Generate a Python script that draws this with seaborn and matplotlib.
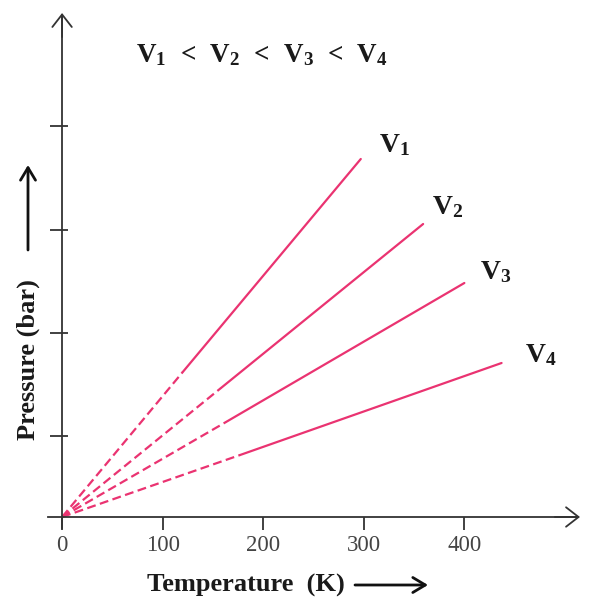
import numpy as np
import pandas as pd
import matplotlib.pyplot as plt
import seaborn as sns

# isochores (T in K, P in arbitrary units)
volumes = ['V1', 'V2', 'V3', 'V4']
t_break = [120, 158, 163, 177]   # where the dashed extrapolation turns solid
p_break = [145, 129, 95, 62]
t_end = [297, 359, 400, 437]
p_end = [358, 293, 234, 154]
x_ticks = [0, 100, 200, 300, 400]
y_ticks = [81, 184, 287, 391]

rows = []
for v, tb, pb, te, pe in zip(volumes, t_break, p_break, t_end, p_end):
    rows += [(v + '_d', 'dashed', 0, 0), (v + '_d', 'dashed', tb, pb),
             (v + '_s', 'solid', tb, pb), (v + '_s', 'solid', te, pe)]
df = pd.DataFrame(rows, columns=['line', 'part', 'T', 'P'])

sns.set_style('ticks')
plt.rcParams['font.family'] = ['Liberation Serif', 'DejaVu Serif']
plt.rcParams['mathtext.fontset'] = 'custom'
plt.rcParams['mathtext.bf'] = 'Liberation Serif:bold'
plt.rcParams['mathtext.rm'] = 'Liberation Serif'

fig = plt.figure(figsize=(5.99, 5.98), dpi=100)
ax = fig.add_axes([48 / 599, 70 / 598, 530 / 599, 513 / 598])

pink = '#ea3371'
axis_col = '#333333'
sns.lineplot(data=df, x='T', y='P', units='line', estimator=None, style='part',
             dashes={'dashed': (4, 2), 'solid': ''}, color=pink, lw=1.6,
             legend=False, sort=False, ax=ax)

ax.set_xlim(-14, 513)
ax.set_ylim(-11, 502)
for s in ['top', 'right']:
    ax.spines[s].set_visible(False)
for s in ['left', 'bottom']:
    ax.spines[s].set_position(('data', 0))
    ax.spines[s].set_color(axis_col)
    ax.spines[s].set_linewidth(1.3)

arrow_kw = dict(arrowstyle='->,head_length=0.45,head_width=0.35', color=axis_col,
                lw=1.3, mutation_scale=20, shrinkA=0, shrinkB=0)
ax.annotate('', xy=(515, 0), xytext=(490, 0), arrowprops=arrow_kw, annotation_clip=False)
ax.annotate('', xy=(0, 504), xytext=(0, 480), arrowprops=arrow_kw, annotation_clip=False)

ax.set_xticks(x_ticks)
ax.set_xticklabels([str(t) for t in x_ticks])
ax.set_yticks(y_ticks)
ax.set_yticklabels([])
ax.set_yticks(y_ticks, minor=True)
ax.yaxis.remove_overlapping_locs = False
ax.tick_params(axis='x', direction='out', length=9, width=1.3, color=axis_col,
               labelsize=16.5, labelcolor='#444444', pad=4)
ax.tick_params(axis='y', which='major', direction='out', length=9, width=1.3, color=axis_col)
ax.tick_params(axis='y', which='minor', direction='in', length=4, width=1.3, color=axis_col)
ax.set_xlabel('')
ax.set_ylabel('')

# line labels
label_pos = [(331, 372), (383, 310), (431, 245), (476, 162)]
for v, (tx, py) in zip(volumes, label_pos):
    ax.text(tx, py, r'$\mathbf{V_%s}$' % v[1], fontsize=20, ha='center', va='center',
            color='#1a1a1a')

ax.text(199, 462, r'$\mathbf{V_1\ <\ V_2\ <\ V_3\ <\ V_4}$', fontsize=19.5,
        ha='center', va='center', color='#1a1a1a')

# axis titles with arrows
fig.text(246 / 599, 13 / 598, 'Temperature  (K)', ha='center', va='center',
         fontsize=19, fontweight='bold', color='#1a1a1a')
fig.text(28 / 599, 238 / 598, 'Pressure (bar)', ha='center', va='center',
         rotation=90, fontsize=19, fontweight='bold', color='#1a1a1a')
label_arrow = dict(arrowstyle='->,head_length=0.5,head_width=0.3', color='#111111',
                   lw=2, mutation_scale=18, shrinkA=0, shrinkB=0)
ax.annotate('', xy=(428, 13), xytext=(355, 13), xycoords='figure pixels',
            arrowprops=label_arrow, annotation_clip=False)
ax.annotate('', xy=(28, 433), xytext=(28, 348), xycoords='figure pixels',
            arrowprops=label_arrow, annotation_clip=False)

fig.savefig('out.png', dpi=100)
